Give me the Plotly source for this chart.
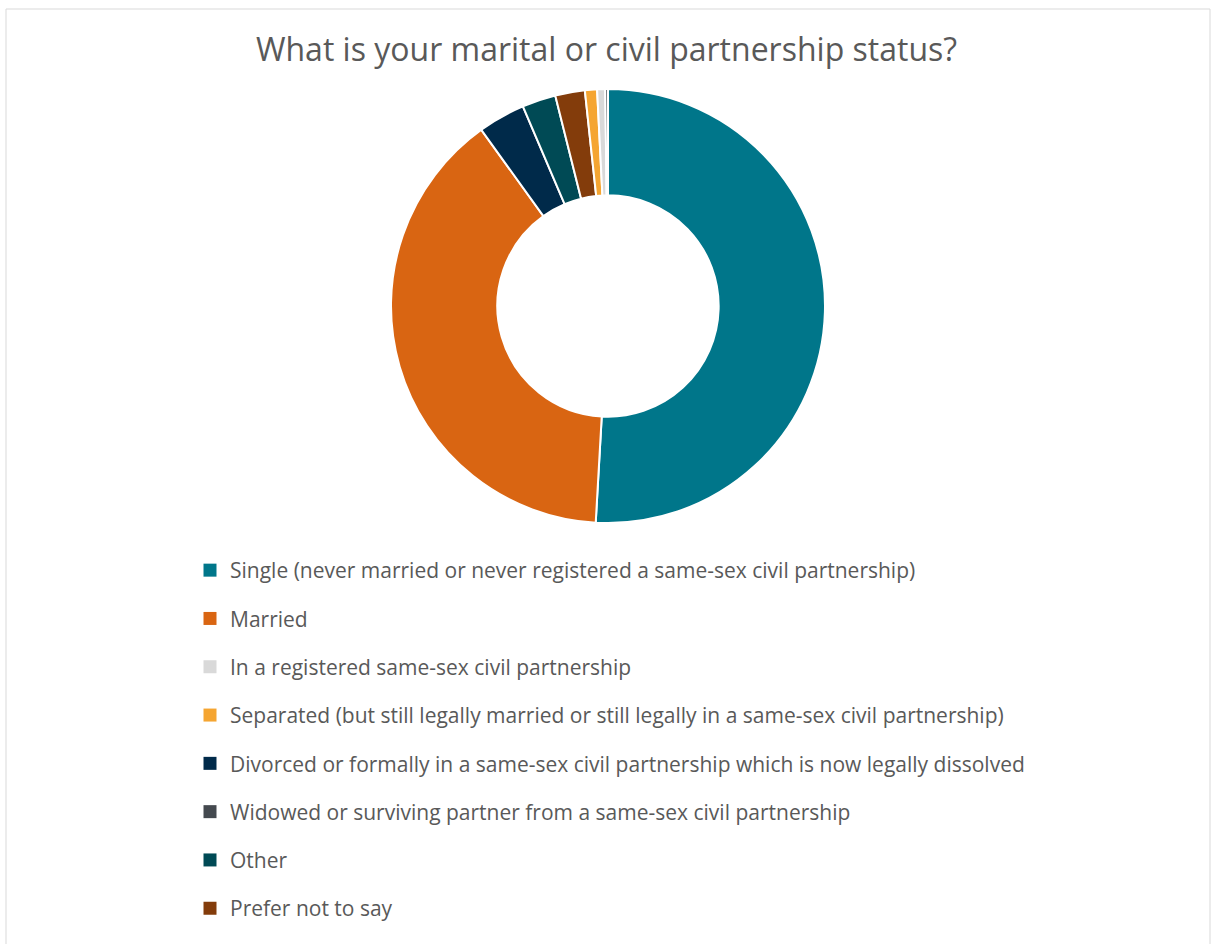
import plotly.graph_objects as go

# Response categories, in legend order
categories = [
    "Single (never married or never registered a same-sex civil partnership)",
    "Married",
    "In a registered same-sex civil partnership",
    "Separated (but still legally married or still legally in a same-sex civil partnership)",
    "Divorced or formally in a same-sex civil partnership which is now legally dissolved",
    "Widowed or surviving partner from a same-sex civil partnership",
    "Other",
    "Prefer not to say",
]
colors = ["#00768A", "#D96512", "#D9D9D9", "#F5A531", "#002A4A", "#44494F", "#004A55", "#833C0B"]

# Share of respondents (%) per category, same order as above
shares = [50.8, 39.1, 0.6, 0.9, 3.5, 0.2, 2.5, 2.2]

# Order in which slices run clockwise from 12 o'clock
slice_order = [0, 1, 4, 6, 7, 3, 2, 5]

W, H = 1213, 944
TEXT = "#595959"
FONT = "Open Sans"

fig = go.Figure()

fig.add_trace(go.Pie(
    labels=[categories[i] for i in slice_order],
    values=[shares[i] for i in slice_order],
    marker=dict(colors=[colors[i] for i in slice_order], line=dict(color="white", width=2)),
    hole=0.51,
    sort=False,
    direction="clockwise",
    rotation=0,
    textinfo="none",
    hoverinfo="label+percent",
    showlegend=False,
    domain=dict(x=[391 / W, 825 / W], y=[1 - 523 / H, 1 - 89 / H]),
))

# Legend entries (square swatches) in category order
for i, (name, col) in enumerate(zip(categories, colors)):
    fig.add_trace(go.Scatter(
        x=[None], y=[None], mode="markers", name=name,
        legendgroup=f"g{i}",
        marker=dict(symbol="square", size=13, color=col),
        hoverinfo="skip",
    ))

fig.update_layout(
    width=W, height=H,
    margin=dict(l=0, r=0, t=0, b=0),
    paper_bgcolor="white", plot_bgcolor="white",
    xaxis=dict(visible=False), yaxis=dict(visible=False),
    font=dict(family=FONT, color=TEXT),
    title=dict(
        text="What is your marital or civil partnership status?",
        x=0.5, xanchor="center", y=1 - 50 / H, yanchor="middle",
        font=dict(family=FONT, size=32, color=TEXT),
    ),
    legend=dict(
        x=190 / W, xanchor="left", y=1 - 550 / H, yanchor="top",
        font=dict(family=FONT, size=21, color=TEXT),
        tracegroupgap=18,
        bgcolor="rgba(0,0,0,0)",
    ),
    shapes=[dict(
        type="rect", xref="paper", yref="paper",
        x0=6 / W, x1=1210 / W, y0=-0.02, y1=1 - 9 / H,
        line=dict(color="#D9D9D9", width=1), fillcolor="rgba(0,0,0,0)", layer="below",
    )],
)

fig.write_html("out.html")
